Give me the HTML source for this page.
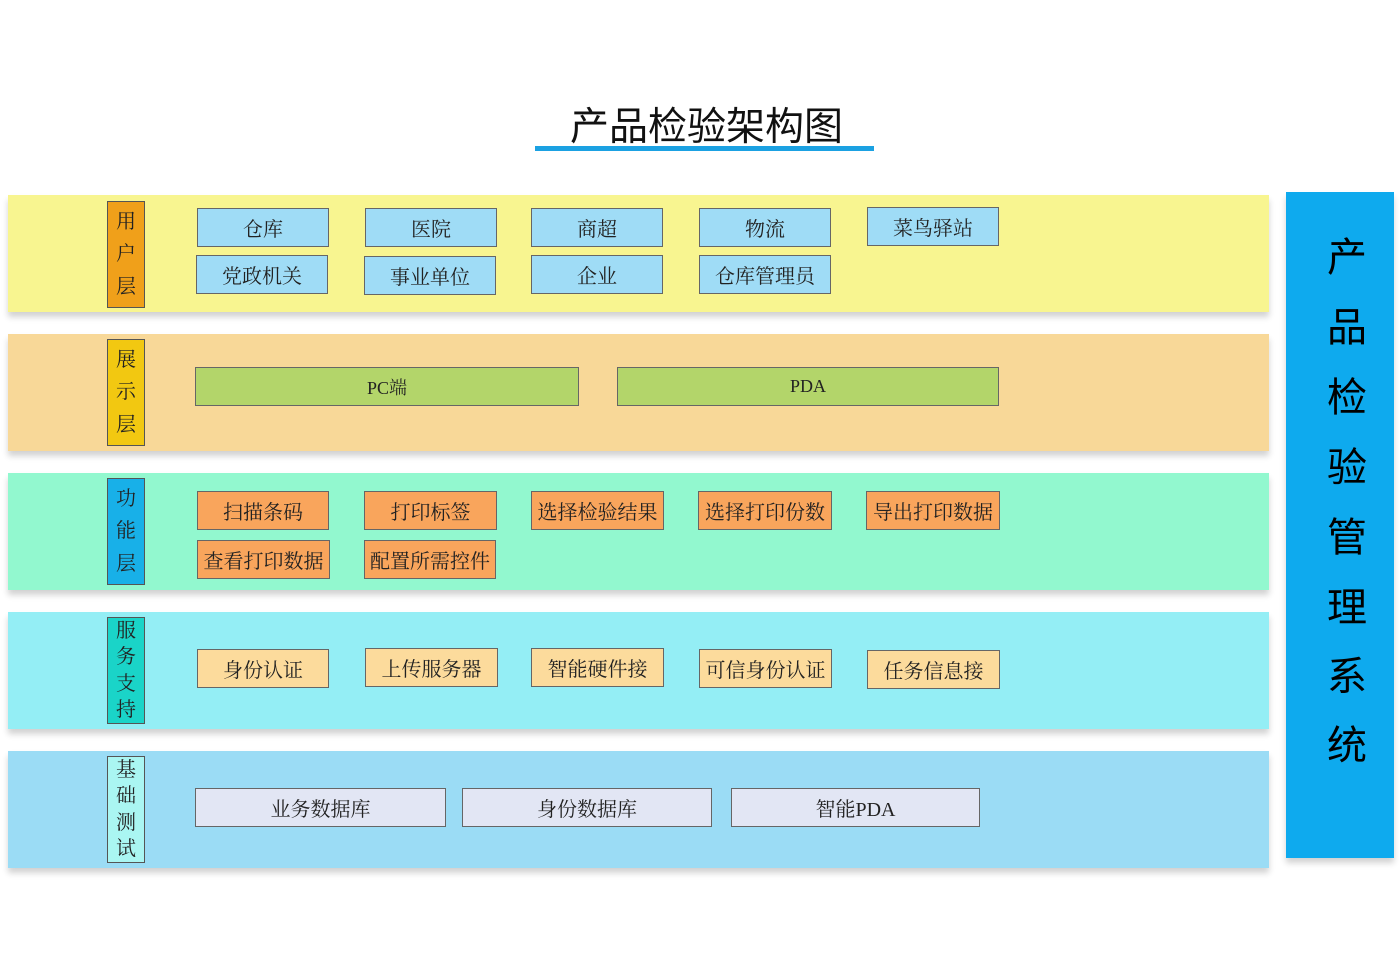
<!DOCTYPE html>
<html><head><meta charset="utf-8"><style>
body{margin:0;width:1400px;height:980px;background:#fff;position:relative;overflow:hidden;font-family:"Liberation Serif","Noto Serif CJK SC",serif;}
.a{position:absolute;box-sizing:border-box;}
.band{position:absolute;left:8px;width:1261px;height:117px;box-shadow:0 5px 6px rgba(0,0,0,0.18);}
.lab{position:absolute;left:107px;width:38px;height:107px;border:1px solid #555;box-sizing:border-box;display:flex;flex-direction:column;justify-content:space-around;align-items:center;font-size:20px;color:#222;line-height:1;padding:4px 0;}
.b{position:absolute;box-sizing:border-box;border:1.5px solid #666;display:flex;align-items:center;justify-content:center;font-size:20px;color:#222;white-space:nowrap;height:39px;}
.u{background:#9fdcf6;}
.f{background:#f9a55c;}
.s{background:#fcdb9c;}
.d{background:#e2e6f4;}
.p{background:#b3d56a;font-size:18px;}
.rc{position:absolute;left:1287px;width:40px;text-align:center;font-family:"Liberation Sans","Noto Sans CJK SC",sans-serif;font-size:40px;line-height:1;color:#000;}
</style></head><body>
<div class="a" style="left:537px;top:105px;width:339px;text-align:center;font-family:'Liberation Sans','Noto Sans CJK SC',sans-serif;font-size:39px;line-height:46px;color:#111;">产品检验架构图</div>
<div class="a" style="left:535px;top:146px;width:339px;height:5px;background:#1ba1e2;"></div>

<div class="band" style="top:195px;background:#f8f590;"></div>
<div class="band" style="top:334px;background:#f8d898;"></div>
<div class="band" style="top:473px;background:#92f8cf;"></div>
<div class="band" style="top:612px;background:#94eef5;"></div>
<div class="band" style="top:751px;background:#9bdcf5;"></div>

<div class="lab" style="top:201px;background:#f0a01a;"><span>用</span><span>户</span><span>层</span></div>
<div class="lab" style="top:339px;background:#f2c811;"><span>展</span><span>示</span><span>层</span></div>
<div class="lab" style="top:478px;background:#18b0e8;"><span>功</span><span>能</span><span>层</span></div>
<div class="lab" style="top:617px;background:#1ad4c8;padding:0;"><span>服</span><span>务</span><span>支</span><span>持</span></div>
<div class="lab" style="top:756px;background:#aaf6f2;padding:0;"><span>基</span><span>础</span><span>测</span><span>试</span></div>

<div class="b u" style="left:197px;top:208px;width:132px;">仓库</div>
<div class="b u" style="left:365px;top:208px;width:132px;">医院</div>
<div class="b u" style="left:531px;top:208px;width:132px;">商超</div>
<div class="b u" style="left:699px;top:208px;width:132px;">物流</div>
<div class="b u" style="left:867px;top:207px;width:132px;">菜鸟驿站</div>
<div class="b u" style="left:196px;top:255px;width:132px;">党政机关</div>
<div class="b u" style="left:364px;top:256px;width:132px;">事业单位</div>
<div class="b u" style="left:531px;top:255px;width:132px;">企业</div>
<div class="b u" style="left:699px;top:255px;width:132px;">仓库管理员</div>

<div class="b p" style="left:195px;top:367px;width:384px;">PC端</div>
<div class="b p" style="left:617px;top:367px;width:382px;">PDA</div>

<div class="b f" style="left:197px;top:491px;width:132px;">扫描条码</div>
<div class="b f" style="left:364px;top:491px;width:133px;">打印标签</div>
<div class="b f" style="left:531px;top:491px;width:133px;">选择检验结果</div>
<div class="b f" style="left:698px;top:491px;width:134px;">选择打印份数</div>
<div class="b f" style="left:866px;top:491px;width:134px;">导出打印数据</div>
<div class="b f" style="left:197px;top:540px;width:133px;">查看打印数据</div>
<div class="b f" style="left:364px;top:540px;width:132px;">配置所需控件</div>

<div class="b s" style="left:197px;top:649px;width:132px;">身份认证</div>
<div class="b s" style="left:365px;top:648px;width:133px;">上传服务器</div>
<div class="b s" style="left:531px;top:648px;width:133px;">智能硬件接</div>
<div class="b s" style="left:699px;top:649px;width:133px;">可信身份认证</div>
<div class="b s" style="left:867px;top:650px;width:133px;">任务信息接</div>

<div class="b d" style="left:195px;top:788px;width:251px;">业务数据库</div>
<div class="b d" style="left:462px;top:788px;width:250px;">身份数据库</div>
<div class="b d" style="left:731px;top:788px;width:249px;">智能PDA</div>

<div class="a" style="left:1286px;top:192px;width:108px;height:666px;background:#0eaaee;box-shadow:0 5px 6px rgba(0,0,0,0.18);"></div>
<div class="rc" style="left:1327px;top:238px;">产</div>
<div class="rc" style="left:1327px;top:308px;">品</div>
<div class="rc" style="left:1327px;top:378px;">检</div>
<div class="rc" style="left:1327px;top:448px;">验</div>
<div class="rc" style="left:1327px;top:518px;">管</div>
<div class="rc" style="left:1327px;top:588px;">理</div>
<div class="rc" style="left:1327px;top:657px;">系</div>
<div class="rc" style="left:1327px;top:726px;">统</div>
</body></html>
